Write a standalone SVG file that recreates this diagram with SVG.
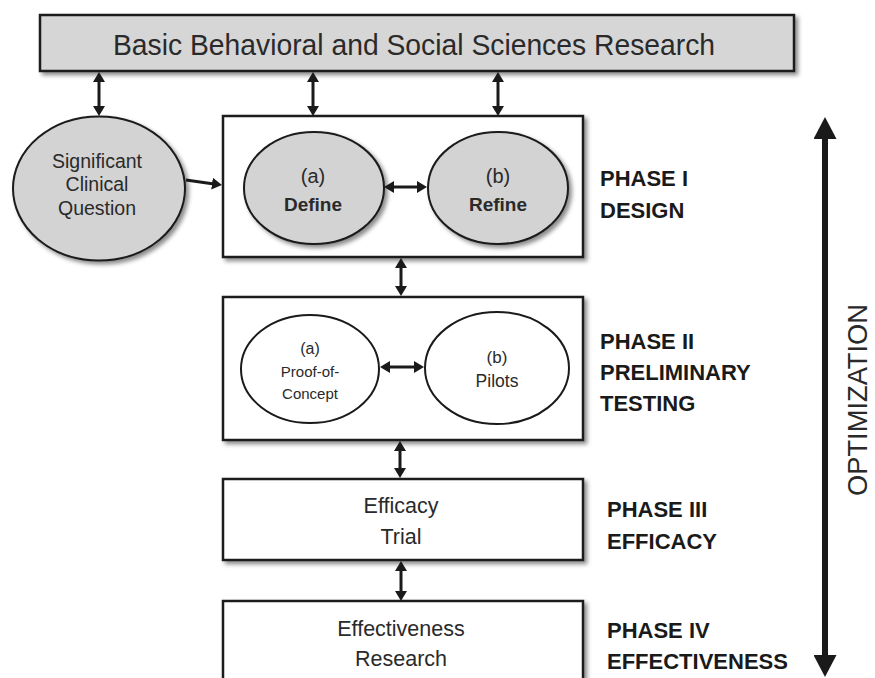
<svg xmlns="http://www.w3.org/2000/svg" width="875" height="678" viewBox="0 0 875 678">
<defs>
<filter id="sh" x="-10%" y="-10%" width="130%" height="130%">
<feDropShadow dx="3" dy="3" stdDeviation="2" flood-color="#000" flood-opacity="0.45"/>
</filter>
<marker id="ah" viewBox="0 0 10 12" markerWidth="10" markerHeight="12" refX="2" refY="6" orient="auto-start-reverse" markerUnits="userSpaceOnUse">
<path d="M0,0 L10,6 L0,12 z" fill="#1a1a1a"/>
</marker>
<marker id="big" viewBox="0 0 22 23" markerWidth="22" markerHeight="23" refX="6" refY="11.5" orient="auto-start-reverse" markerUnits="userSpaceOnUse">
<path d="M0,0 L22,11.5 L0,23 z" fill="#1a1a1a"/>
</marker>
</defs>
<style>
.box{fill:#fff;stroke:#1a1a1a;stroke-width:2.5}
.gbox{fill:#d6d6d6;stroke:#1a1a1a;stroke-width:2.5}
.gell{fill:#d3d3d3;stroke:#1a1a1a;stroke-width:2}
.well{fill:#fff;stroke:#1a1a1a;stroke-width:2}
.t{font-family:"Liberation Sans",Arial,sans-serif;fill:#2a2a2a;text-anchor:middle}
.b{font-family:"Liberation Sans",Arial,sans-serif;fill:#1a1a1a;font-weight:bold;font-size:22px}
.c{fill:none;stroke:#1a1a1a;stroke-width:3}
</style>
<rect width="875" height="678" fill="#fff"/>

<g id="basic">
<rect class="gbox" x="40" y="15" width="754" height="56" filter="url(#sh)"/>
<text class="t" x="414" y="55" font-size="30" textLength="602" lengthAdjust="spacingAndGlyphs">Basic Behavioral and Social Sciences Research</text>
</g>

<g id="question">
<ellipse class="gell" cx="99" cy="188.5" rx="86" ry="72" filter="url(#sh)"/>
<text class="t" x="97" y="168" font-size="19.5">Significant</text>
<text class="t" x="97" y="191" font-size="19.5">Clinical</text>
<text class="t" x="97" y="215" font-size="19.5">Question</text>
</g>

<g id="phase1">
<rect class="box" x="223" y="116" width="360" height="141" filter="url(#sh)"/>
<g id="define">
<ellipse class="gell" cx="314" cy="188" rx="70" ry="56" filter="url(#sh)"/>
<text class="t" x="313" y="183" font-size="20">(a)</text>
<text class="t" x="313" y="211" font-size="19" font-weight="bold">Define</text>
</g>
<g id="refine">
<ellipse class="gell" cx="498" cy="188" rx="70" ry="56" filter="url(#sh)"/>
<text class="t" x="498" y="183" font-size="20">(b)</text>
<text class="t" x="498" y="211" font-size="19" font-weight="bold">Refine</text>
</g>
</g>

<g id="phase2">
<rect class="box" x="223" y="297" width="360" height="143" filter="url(#sh)"/>
<g id="proof">
<ellipse class="well" cx="310" cy="369" rx="69" ry="54"/>
<text class="t" x="310" y="354" font-size="16">(a)</text>
<text class="t" x="310" y="377" font-size="15">Proof-of-</text>
<text class="t" x="310" y="399" font-size="15">Concept</text>
</g>
<g id="pilots">
<ellipse class="well" cx="497" cy="368" rx="72" ry="56"/>
<text class="t" x="497" y="363" font-size="17">(b)</text>
<text class="t" x="497" y="387" font-size="17.5">Pilots</text>
</g>
</g>

<g id="phase3">
<rect class="box" x="223" y="479" width="360" height="81" filter="url(#sh)"/>
<text class="t" x="401" y="513" font-size="21.5">Efficacy</text>
<text class="t" x="401" y="544" font-size="21.5">Trial</text>
</g>

<g id="phase4">
<rect class="box" x="223" y="601" width="360" height="95" filter="url(#sh)"/>
<text class="t" x="401" y="636" font-size="21.5">Effectiveness</text>
<text class="t" x="401" y="666" font-size="21.5">Research</text>
</g>

<g id="labels">
<text class="b" x="600" y="186">PHASE I</text>
<text class="b" x="600" y="218">DESIGN</text>
<text class="b" x="600" y="349">PHASE II</text>
<text class="b" x="600" y="380">PRELIMINARY</text>
<text class="b" x="600" y="411">TESTING</text>
<text class="b" x="607" y="517">PHASE III</text>
<text class="b" x="607" y="549">EFFICACY</text>
<text class="b" x="607" y="638">PHASE IV</text>
<text class="b" x="607" y="669">EFFECTIVENESS</text>
<text class="t" x="0" y="0" font-size="28" textLength="192" lengthAdjust="spacingAndGlyphs" transform="translate(867,400) rotate(-90)">OPTIMIZATION</text>
</g>

<g id="connectors">
<line class="c" x1="99" y1="80" x2="99" y2="108" marker-start="url(#ah)" marker-end="url(#ah)"/>
<line class="c" x1="313" y1="80" x2="313" y2="108" marker-start="url(#ah)" marker-end="url(#ah)"/>
<line class="c" x1="498" y1="80" x2="498" y2="108" marker-start="url(#ah)" marker-end="url(#ah)"/>
<line class="c" x1="186" y1="180" x2="214" y2="183.9" marker-end="url(#ah)"/>
<line class="c" x1="392" y1="187" x2="419" y2="187" marker-start="url(#ah)" marker-end="url(#ah)"/>
<line class="c" x1="401" y1="266" x2="401" y2="288" marker-start="url(#ah)" marker-end="url(#ah)"/>
<line class="c" x1="388" y1="367" x2="416" y2="367" marker-start="url(#ah)" marker-end="url(#ah)"/>
<line class="c" x1="400" y1="449" x2="400" y2="470" marker-start="url(#ah)" marker-end="url(#ah)"/>
<line class="c" x1="401" y1="569" x2="401" y2="593" marker-start="url(#ah)" marker-end="url(#ah)"/>
<line x1="825" y1="133" x2="825" y2="661" stroke="#1a1a1a" stroke-width="6" marker-start="url(#big)" marker-end="url(#big)"/>
</g>
</svg>
